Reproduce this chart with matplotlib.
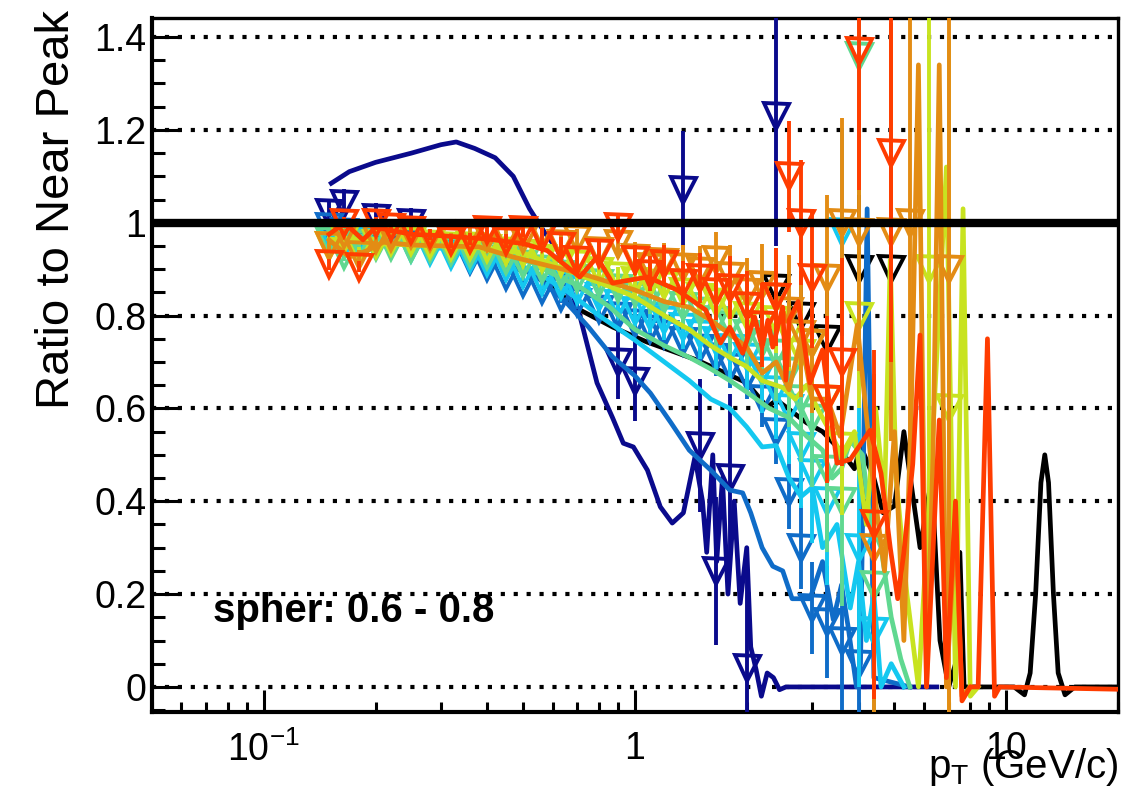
import numpy as np
import matplotlib
matplotlib.use('Agg')
import matplotlib.pyplot as plt
from matplotlib.ticker import FixedLocator, FixedFormatter, LogLocator, MultipleLocator, FuncFormatter, NullFormatter

plt.rcParams['font.family'] = ['Liberation Sans', 'DejaVu Sans']
plt.rcParams['mathtext.fontset'] = 'custom'
plt.rcParams['mathtext.rm'] = 'Liberation Sans'

nan = np.nan

#-----------------------------------------------------------------------------------------------
# values

series = ['black', 'navy', 'blue', 'lightblue', 'green', 'yellow', 'orange', 'red']
colors = {'black': 'k', 'navy': '#0a0a8c', 'blue': '#0f6cc8', 'lightblue': '#14c8f0',
          'green': '#60d890', 'yellow': '#c8e320', 'orange': '#e38c14', 'red': '#ff3c00'}

# smooth curves
black_pt = [0.148, 0.168, 0.252, 0.382, 0.469, 0.579, 0.711, 0.872, 1.077, 1.47, 2.0, 2.27, 2.41, 2.9, 3.2,
            3.57, 3.9, 4.05, 4.4, 4.66, 5.0, 5.3, 5.86, 6.3, 6.63, 7.0, 7.3, 7.5, 7.7, 10.5, 11.2,
            11.6, 12.0, 12.4, 12.7, 13.0, 13.4, 13.8, 14.4, 15.3, 20.0]
black_ratio = [0.99, 0.978, 0.956, 0.935, 0.913, 0.87, 0.812, 0.775, 0.743, 0.704, 0.655, 0.603, 0.618, 0.569, 0.55,
               0.51, 0.47, 0.52, 0.45, 0.375, 0.39, 0.55, 0.30, 0.45, 0.10, 0.0, 0.05, 0.29, 0.0, 0.0, -0.017,
               0.03, 0.2, 0.44, 0.5, 0.44, 0.2, 0.03, -0.017, 0.0, 0.0]

navy_pt = [0.152, 0.17, 0.2, 0.25, 0.3, 0.33, 0.37, 0.42, 0.47, 0.52, 0.57, 0.62, 0.71, 0.79, 0.87,
           0.93, 0.99, 1.08, 1.17, 1.26, 1.35, 1.45, 1.52, 1.56, 1.62, 1.66, 1.72, 1.78, 1.85, 1.92,
           2.0, 2.05, 2.12, 2.19, 2.27, 2.36, 2.45, 2.55, 4.0, 6.5]
navy_ratio = [1.085, 1.11, 1.13, 1.15, 1.168, 1.174, 1.16, 1.14, 1.10, 1.03, 0.98, 0.94, 0.80, 0.655, 0.58,
              0.525, 0.517, 0.467, 0.388, 0.353, 0.375, 0.495, 0.40, 0.29, 0.50, 0.27, 0.45, 0.20, 0.40, 0.18,
              0.30, 0.086, 0.037, -0.02, 0.03, 0.02, -0.006, 0.0, 0.0, 0.0]

blue_pt = [0.15, 0.2, 0.3, 0.4, 0.47, 0.55, 0.65, 0.75, 0.87, 1.0, 1.1, 1.25, 1.4, 1.6, 1.8,
           1.95, 2.05, 2.2, 2.35, 2.5, 2.65, 2.96, 3.2, 3.42, 3.6, 3.75, 3.95, 4.05, 4.22, 4.4, 5.5]
blue_ratio = [0.99, 0.975, 0.955, 0.94, 0.915, 0.88, 0.83, 0.775, 0.711, 0.67, 0.633, 0.569, 0.51, 0.467, 0.424,
              0.418, 0.375, 0.30, 0.26, 0.25, 0.19, 0.19, 0.27, 0.145, 0.22, 0.13, 0.0, 0.05, 1.03, 0.02, 0.0]

lightblue_pt = [0.15, 0.2, 0.3, 0.4, 0.47, 0.55, 0.65, 0.8, 1.0, 1.2, 1.4, 1.6, 1.8, 2.0, 2.2,
                2.4, 2.6, 2.8, 3.0, 3.2, 3.5, 3.8, 4.0, 4.2, 4.4, 4.6, 4.9, 5.3]
lightblue_ratio = [0.975, 0.96, 0.945, 0.93, 0.915, 0.89, 0.855, 0.80, 0.747, 0.70, 0.66, 0.62, 0.60, 0.56, 0.517,
                   0.52, 0.45, 0.41, 0.43, 0.30, 0.35, 0.17, 0.27, 0.10, 0.20, 0.0, 0.05, 0.0]

green_pt = [0.15, 0.2, 0.3, 0.4, 0.5, 0.6, 0.7, 0.85, 1.0, 1.2, 1.4, 1.6, 1.8, 2.0, 2.3,
            2.6, 2.9, 3.2, 3.4, 3.6, 3.8, 4.1, 4.3, 4.6, 4.9, 5.2, 5.5]
green_ratio = [0.985, 0.965, 0.952, 0.945, 0.925, 0.89, 0.865, 0.82, 0.77, 0.735, 0.71, 0.685, 0.66, 0.635, 0.60,
               0.58, 0.54, 0.51, 0.45, 0.47, 0.53, 0.50, 0.36, 0.30, 0.15, 0.06, 0.0]

yellow_pt = [0.15, 0.2, 0.3, 0.4, 0.5, 0.6, 0.72, 0.87, 1.0, 1.2, 1.4, 1.6, 1.8, 2.0, 2.2,
             2.5, 2.7, 2.9, 3.1, 3.3, 3.6, 3.9, 4.2, 4.45, 4.7, 4.87, 5.05, 5.4, 5.8, 6.3,
             6.9, 7.3, 7.65, 8.0, 8.4]
yellow_ratio = [0.965, 0.955, 0.95, 0.945, 0.935, 0.91, 0.885, 0.86, 0.84, 0.80, 0.77, 0.735, 0.71, 0.69, 0.66,
                0.645, 0.62, 0.65, 0.60, 0.56, 0.50, 0.55, 0.35, 0.60, 0.40, 0.92, 0.45, 0.20, 0.0, 0.5,
                1.12, 0.0, 1.03, -0.02, 0.0]

orange_pt = [0.15, 0.17, 0.19, 0.21, 0.25, 0.38, 0.47, 0.6, 0.72, 0.87, 1.0, 1.2, 1.4, 1.6, 1.8,
             2.0, 2.2, 2.4, 2.6, 2.8, 3.0, 3.3, 3.57, 3.97, 4.38, 4.7, 5.0, 5.3, 5.55, 5.8,
             6.1, 6.35, 6.6, 6.9, 7.3, 7.6, 8.0]
orange_ratio = [0.963, 0.926, 0.94, 0.958, 0.952, 0.948, 0.926, 0.905, 0.89, 0.87, 0.855, 0.83, 0.818, 0.79, 0.76,
                0.732, 0.676, 0.70, 0.64, 0.75, 0.62, 0.62, 0.54, 0.78, 0.44, 0.25, 0.55, 0.10, 0.6, 1.34,
                0.0, 0.5, 1.34, 0.0, 0.35, -0.02, 0.0]

red_pt = [0.15, 0.165, 0.185, 0.2, 0.25, 0.3, 0.4, 0.5, 0.58, 0.71, 0.79, 0.87, 1.08, 1.3, 1.55,
          1.7, 1.8, 1.95, 2.1, 2.2, 2.28, 2.35, 2.5, 2.55, 2.6, 2.75, 2.96, 3.2, 3.5, 3.8,
          4.3, 4.6, 4.87, 5.1, 5.3, 5.6, 5.86, 6.1, 6.6, 6.9, 7.3, 7.6, 8.0, 8.4, 8.9,
          9.3, 9.6, 20.0]
red_ratio = [0.975, 1.0, 0.963, 0.99, 0.975, 0.972, 0.965, 0.955, 0.94, 0.883, 0.926, 0.87, 0.883, 0.855, 0.812,
             0.741, 0.775, 0.719, 0.797, 0.732, 0.79, 0.732, 0.818, 0.661, 0.79, 0.83, 0.655, 0.726, 0.482, 0.49,
             0.553, 0.46, 0.30, 0.19, 0.29, 0.48, 0.758, 0.0, 0.575, 0.02, 0.4, -0.03, 0.0, 0.0, 0.75,
             -0.02, 0.0, -0.005]

# open triangles with error bars
mk_pt = [0.15, 0.165, 0.18, 0.2, 0.22, 0.25, 0.28, 0.32, 0.36, 0.4, 0.45, 0.5, 0.56, 0.63, 0.7,
         0.8, 0.9, 1.0, 1.1, 1.2, 1.35, 1.5, 1.65, 1.8, 2.0, 2.2, 2.4, 2.6, 2.8, 3.0,
         3.3, 3.6, 4.0, 4.4, 4.9, 5.5, 6.2, 7.0]
mk_err = [0.008, 0.008, 0.008, 0.008, 0.008, 0.008, 0.008, 0.009, 0.009, 0.01, 0.01, 0.011, 0.012, 0.013, 0.015,
          0.017, 0.02, 0.022, 0.025, 0.028, 0.032, 0.036, 0.04, 0.045, 0.05, 0.06, 0.07, 0.08, 0.09, 0.1,
          0.12, 0.15, 0.2, 0.25, 0.3, 0.35, 0.6, 0.8]
err_scale = {'black': 1, 'navy': 4, 'blue': 1, 'lightblue': 1.5, 'green': 1.5, 'yellow': 1, 'orange': 1.5, 'red': 1.5}

black_mk = [nan, nan, nan, nan, nan, nan, nan, nan, nan, nan, nan, nan, nan, nan, nan,
            nan, nan, nan, nan, nan, nan, nan, nan, nan, nan, nan, 0.86, nan, 0.80, nan,
            0.75, nan, 0.90, nan, 0.90, nan, nan, nan]
navy_mk = [1.02, 1.04, nan, 1.01, nan, 1.0, nan, nan, nan, nan, nan, nan, nan, nan, nan,
           nan, 0.70, 0.66, nan, nan, 1.07, 0.52, 0.25, 0.45, 0.04, nan, 1.23, nan, nan, nan,
           nan, nan, nan, nan, nan, nan, nan, nan]
blue_mk = [0.99, 0.98, 0.975, 0.97, 0.96, 0.955, 0.945, 0.935, 0.92, 0.905, 0.885, 0.87, 0.855, 0.84, 0.83,
           0.815, 0.80, 0.785, 0.77, 0.76, 0.745, 0.73, 0.71, 0.69, 0.67, 0.62, 0.55, 0.42, 0.30, 0.17,
           0.14, 0.10, 0.05, nan, nan, nan, nan, nan]
lightblue_mk = [0.975, 0.955, 0.96, 0.96, 0.955, 0.945, 0.94, 0.93, 0.925, 0.915, 0.905, 0.89, 0.875, 0.865, 0.855,
                0.84, 0.825, 0.81, 0.80, 0.79, 0.775, 0.76, 0.745, 0.73, 0.71, 0.68, 0.64, 0.60, 0.52, 0.46,
                0.40, 0.98, 0.30, 0.12, nan, nan, nan, nan]
green_mk = [0.96, 0.93, 0.955, 0.95, 0.95, 0.945, 0.945, 0.94, 0.935, 0.93, 0.92, 0.91, 0.90, 0.89, 0.88,
            0.87, 0.86, 0.85, 0.84, 0.835, 0.82, 0.81, 0.79, 0.78, 0.76, 0.74, 0.72, 0.68, 0.62, 0.58,
            0.47, 0.40, 1.36, 0.22, nan, nan, nan, nan]
yellow_mk = [0.95, 0.965, 0.94, 0.955, 0.96, 0.96, 0.955, 0.95, 0.95, 0.945, 0.94, 0.935, 0.925, 0.915, 0.91,
             0.895, 0.885, 0.875, 0.87, 0.865, 0.85, 0.84, 0.83, 0.82, 0.80, 0.78, 0.79, 0.76, 0.72, 0.74,
             0.62, 0.52, 0.80, nan, nan, nan, 0.9, 0.6]
orange_mk = [0.95, 0.975, 0.93, 0.965, 0.97, 0.975, 0.97, 0.965, 0.975, 0.97, 0.97, 0.965, 0.975, 0.955, 0.965,
             0.94, 0.955, 0.925, 0.905, 0.915, 0.905, 0.895, 0.92, 0.885, 0.85, 0.865, 0.84, 0.81, 0.76, 0.74,
             0.88, 1.0, 0.98, 0.30, 0.98, 1.0, nan, 0.9]
red_mk = [0.91, 1.0, 0.905, 1.0, 0.99, 0.985, 0.975, 0.96, 0.965, 0.985, 0.96, 0.985, 0.97, 0.95, 0.92,
          0.935, 0.99, 0.92, 0.89, 0.91, 0.87, 0.88, 0.85, 0.86, 0.82, 0.78, 0.84, 1.10, 1.0, 0.88,
          0.62, 0.70, 1.37, 0.35, 1.15, nan, nan, nan]

curves = {'black': (black_pt, black_ratio), 'navy': (navy_pt, navy_ratio), 'blue': (blue_pt, blue_ratio),
          'lightblue': (lightblue_pt, lightblue_ratio), 'green': (green_pt, green_ratio),
          'yellow': (yellow_pt, yellow_ratio), 'orange': (orange_pt, orange_ratio), 'red': (red_pt, red_ratio)}
markers = {'black': black_mk, 'navy': navy_mk, 'blue': blue_mk, 'lightblue': lightblue_mk,
           'green': green_mk, 'yellow': yellow_mk, 'orange': orange_mk, 'red': red_mk}

label_text = 'spher: 0.6 - 0.8'

#-----------------------------------------------------------------------------------------------

fig = plt.figure(figsize=(11.21, 7.95), dpi=100)
ax = fig.add_axes([152/1121, 83/795, 966/1121, 694/795])

z = 2
for name in series:
    c = colors[name]
    mk = np.array(markers[name])
    err = np.array(mk_err) * err_scale[name]
    ax.errorbar(mk_pt, mk, yerr=err, fmt='v', ms=18, mfc='none', mec=c, mew=2.8,
                ecolor=c, elinewidth=2.8, capsize=0, zorder=z)
    pt, ratio = curves[name]
    ax.plot(pt, ratio, '-', color=c, lw=3.4, solid_joinstyle='round', zorder=z + 0.5)
    z += 1

ax.axhline(1.0, color='k', lw=6, zorder=20)

ax.set_xscale('log')
ax.set_xlim(0.05, 20)
ax.set_ylim(-0.054, 1.441)

ax.xaxis.set_major_locator(FixedLocator([0.1, 1, 10]))
ax.xaxis.set_major_formatter(FixedFormatter([r'$\mathregular{10^{-1}}$', '1', '10']))
ax.xaxis.set_minor_locator(LogLocator(base=10, subs=np.arange(2, 10)))
ax.xaxis.set_minor_formatter(NullFormatter())

ax.yaxis.set_major_locator(MultipleLocator(0.2))
ax.yaxis.set_minor_locator(MultipleLocator(0.05))
ax.yaxis.set_major_formatter(FuncFormatter(lambda v, p: '%g' % round(v, 2)))

ax.yaxis.grid(True, which='major', color='k', linestyle=(0, (1, 2.1)), linewidth=3)

ax.tick_params(axis='y', which='major', direction='in', length=20, width=2.2, labelsize=27, pad=4)
ax.tick_params(axis='y', which='minor', direction='in', length=9.5, width=2.2)
ax.tick_params(axis='x', which='major', direction='in', length=16, width=2.2, labelsize=27, pad=14)
ax.tick_params(axis='x', which='minor', direction='in', length=7.5, width=2.2)
ax.tick_params(top=False, right=False, which='both')

for s in ax.spines.values():
    s.set_linewidth(2.4)
ax.spines['left'].set_linewidth(3)
ax.spines['bottom'].set_linewidth(3)

ax.text(0.063, 0.13, label_text, transform=ax.transAxes, fontsize=29, fontweight='bold',
        va='baseline', ha='left', zorder=30)

fig.text(57/1121, 1 - 10/795, 'Ratio to Near Peak', rotation=90, ha='center', va='top', fontsize=34)
fig.text(1118/1121, 17/795, r'$\mathregular{p_{T}}$ (GeV/c)', ha='right', va='baseline', fontsize=29)

plt.savefig('out.png', dpi=100)
